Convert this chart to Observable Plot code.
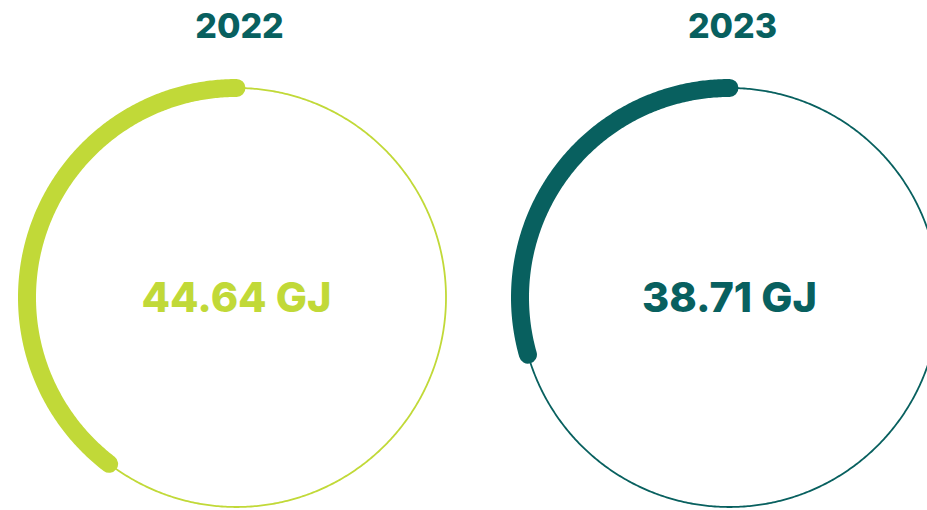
<!DOCTYPE html>
<html>
<head>
<meta charset="utf-8">
<script src="https://cdn.jsdelivr.net/npm/d3@7"></script>
<script src="https://cdn.jsdelivr.net/npm/@observablehq/plot@0.6"></script>
<style>
  html, body { margin: 0; padding: 0; background: #ffffff; }
  #chart { width: 927px; height: 510px; overflow: hidden; }
</style>
</head>
<body>
<div id="chart"></div>
<script>
// ---- data ----
const years = ["2022", "2023"];
const values = [44.64, 38.71];
const unit = "GJ";
// share of the full circle covered by the thick arc (counter-clockwise from 12 o'clock)
const arcShares = [0.396, 0.294];

// ---- styling / layout ----
const colors = ["#c1d938", "#08605f"];
const titleColor = "#08605f";
const W = 927, H = 510;
const R = 209.5;          // circle radius in px
const cyPx = 297;         // circle centre (px from top)
const mTop = 60, mBottom = 0, mLeft = 46, mRight = 7.5;
const panelW = 380;
const a = panelW / 2 / R;
const yTop = (cyPx - mTop) / R;
const yBottom = -((H - mBottom) - cyPx) / R;

const records = years.map((year, i) => ({year, value: values[i], share: arcShares[i]}));

// sample the geometry from the data (unit circle, angle measured CCW from top)
const arcPoints = records.flatMap(d => {
  const n = Math.max(2, Math.ceil(d.share * 720));
  return d3.range(n + 1).map(j => {
    const t = d.share * 2 * Math.PI * j / n;
    return {year: d.year, x: -Math.sin(t), y: Math.cos(t)};
  });
});
const ringPoints = records.flatMap(d =>
  d3.range(721).map(j => {
    const t = 2 * Math.PI * j / 720;
    return {year: d.year, x: -Math.sin(t), y: Math.cos(t)};
  })
);

const font = "Inter, 'Liberation Sans', Arial, sans-serif";

const chart = Plot.plot({
  width: W,
  height: H,
  marginTop: mTop,
  marginBottom: mBottom,
  marginLeft: mLeft,
  marginRight: mRight,
  style: {background: "#ffffff", overflow: "visible"},
  fx: {domain: years, paddingInner: 0.23, paddingOuter: 0, axis: null},
  x: {domain: [-a, a], axis: null},
  y: {domain: [yBottom, yTop], axis: null},
  color: {domain: years, range: colors},
  marks: [
    Plot.line(ringPoints, {fx: "year", x: "x", y: "y", z: "year", stroke: "year", strokeWidth: 1.8, curve: "linear"}),
    Plot.line(arcPoints, {fx: "year", x: "x", y: "y", z: "year", stroke: "year", strokeWidth: 18, strokeLinecap: "round", curve: "linear"}),
    Plot.text(records, {
      fx: "year", x: 0, frameAnchor: "top", dy: -33, dx: 3,
      text: "year", fill: titleColor, fontSize: 34, fontWeight: 800,
      fontFamily: font, lineAnchor: "middle", textAnchor: "middle"
    }),
    Plot.text(records, {
      fx: "year", x: 0, y: 0, dy: 1,
      text: d => `${d.value.toFixed(2)} ${unit}`, fill: "year",
      fontSize: 41.5, fontWeight: 800, fontFamily: font,
      lineAnchor: "middle", textAnchor: "middle"
    })
  ]
});

document.getElementById("chart").appendChild(chart);
</script>
</body>
</html>
